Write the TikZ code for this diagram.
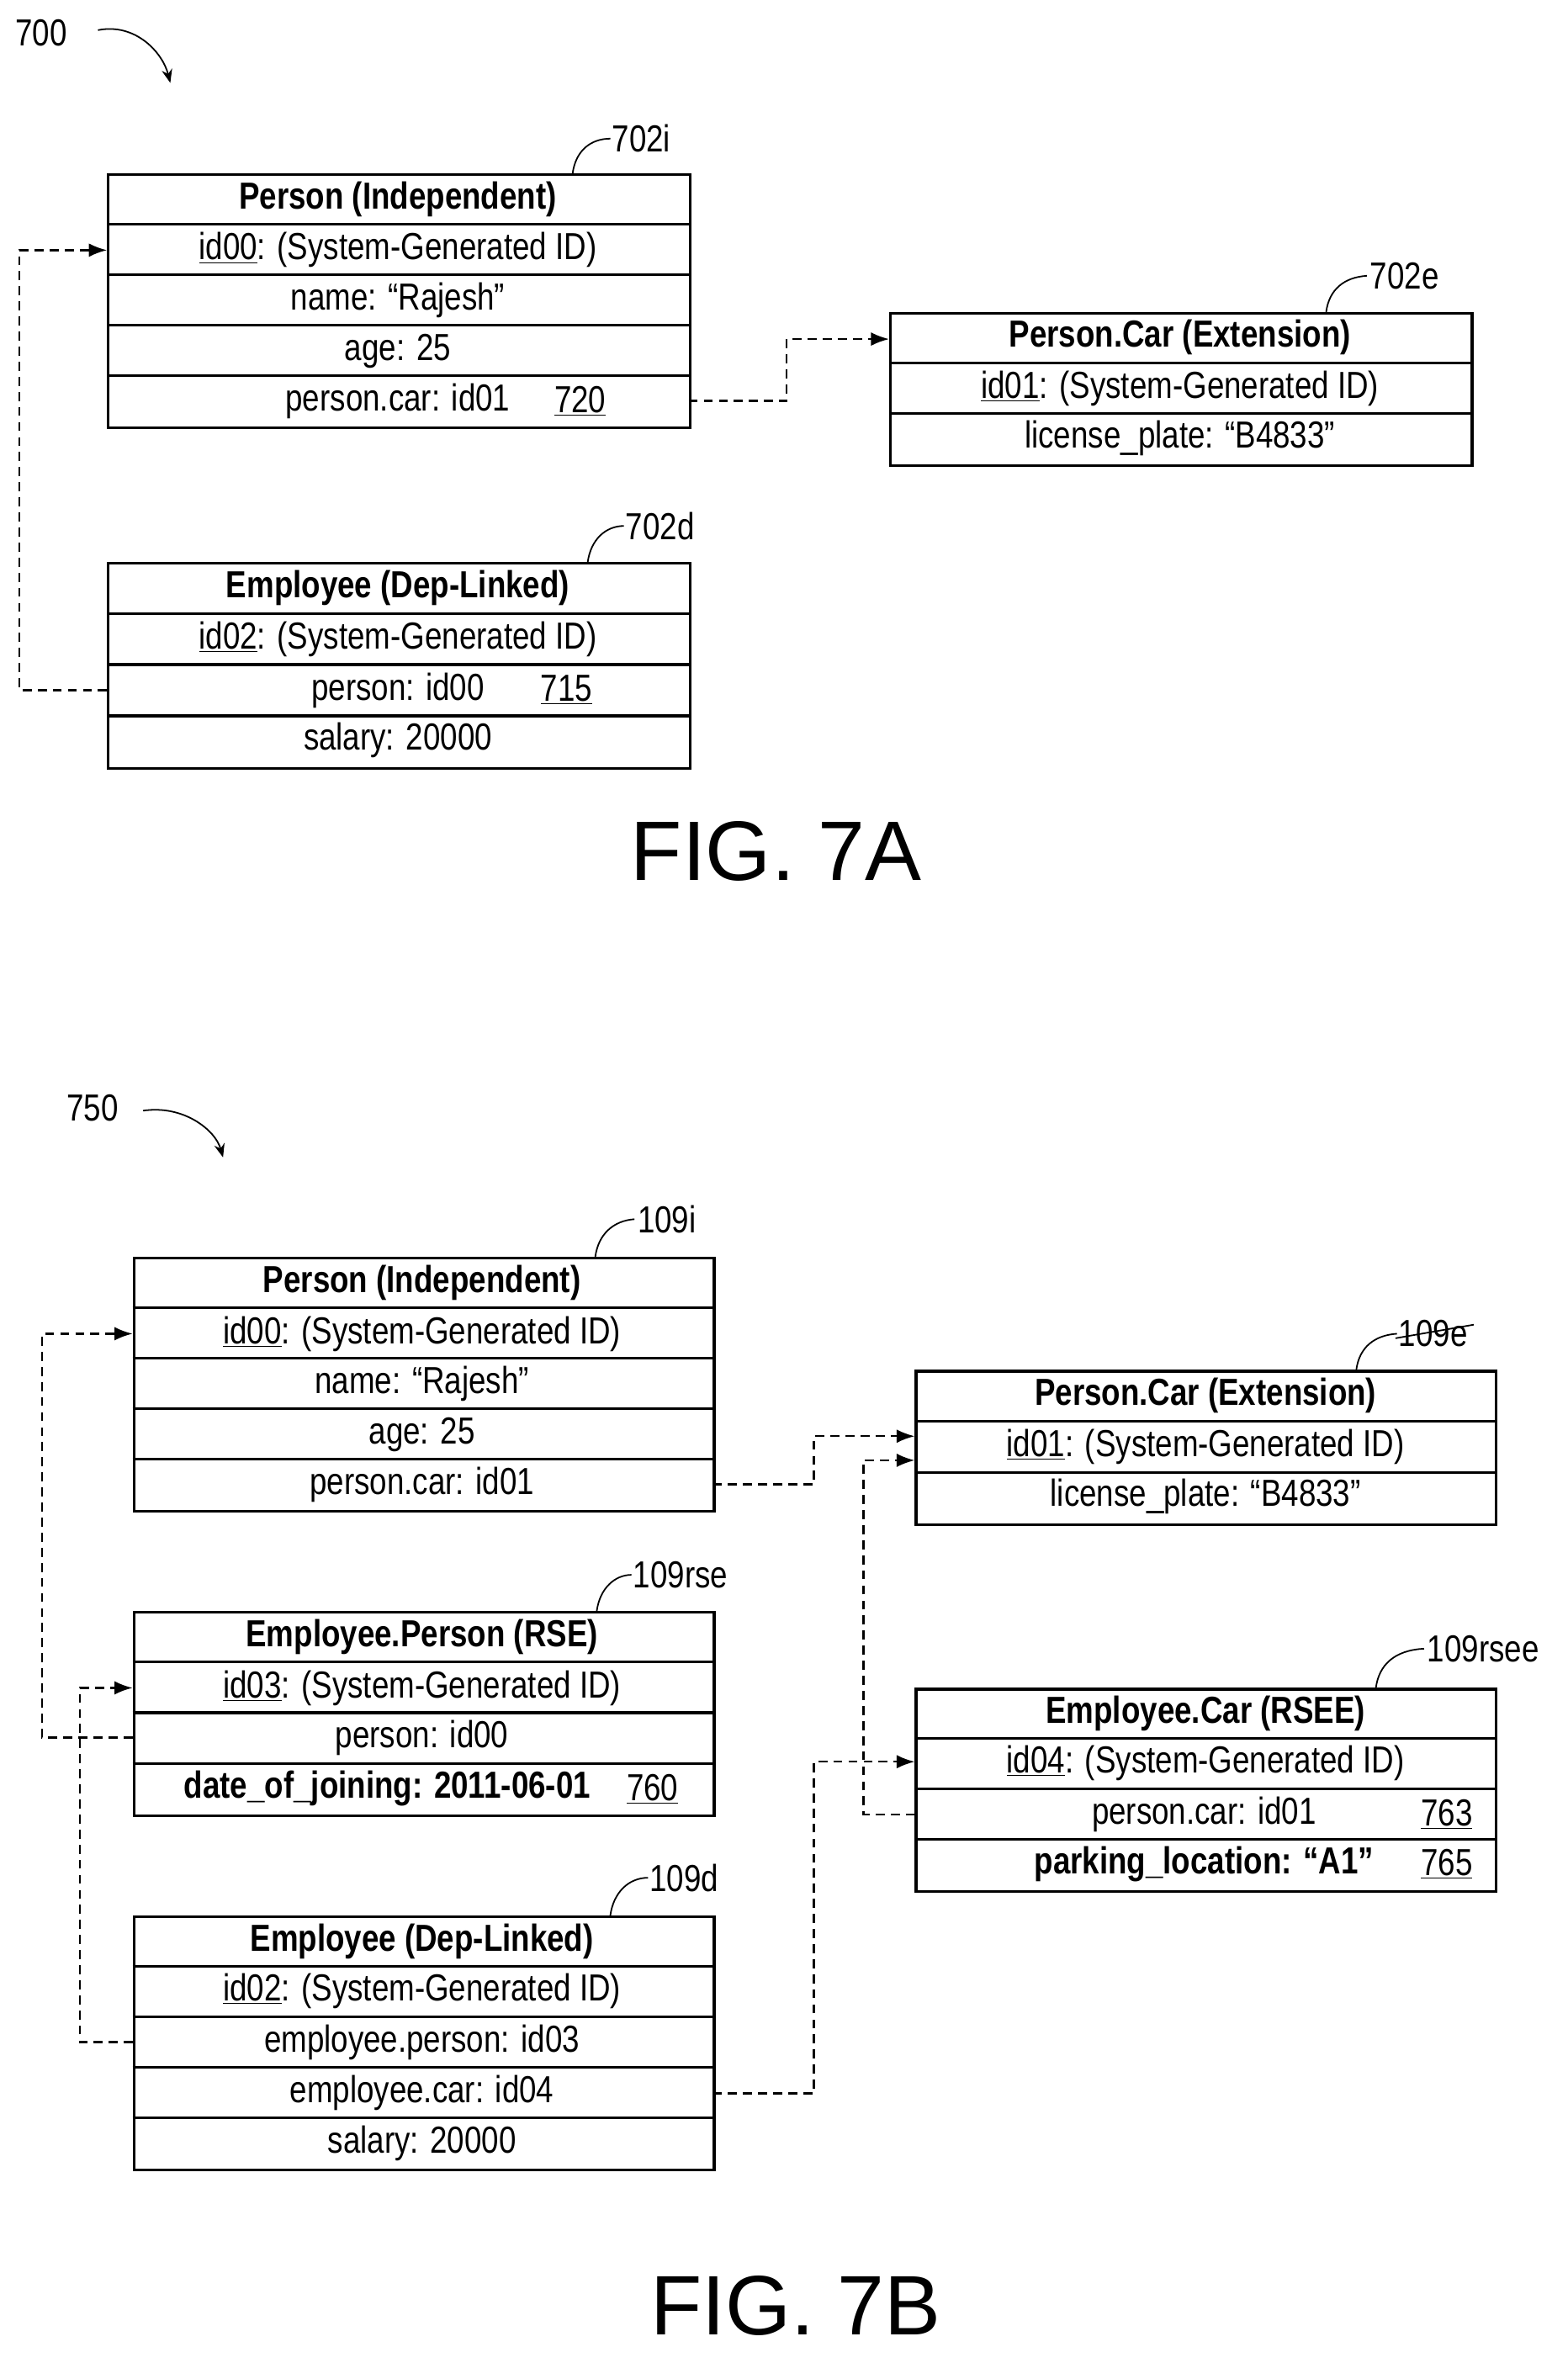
\documentclass[tikz,border=0pt]{standalone}
\usepackage{fontspec}
\setmainfont{Liberation Sans}[FakeStretch=0.82]
\newfontfamily\figfont{Liberation Sans}
\usetikzlibrary{arrows.meta}
\begin{document}
\begin{tikzpicture}[x=1pt,y=-1pt,
  box/.style={draw,line width=1.8pt,anchor=north west,inner sep=0pt},
  rowline/.style={line width=1.8pt},
  txt/.style={font=\fontsize{25}{27}\selectfont,inner sep=0pt,anchor=center},
  lbl/.style={font=\fontsize{25}{27}\selectfont,inner sep=0pt,anchor=west},
  lead/.style={line width=1pt},
  link/.style={line width=1.3pt,dash pattern=on 6pt off 4pt},
  arr/.style={link,-{Latex[length=12pt,width=9pt]}},
  fig/.style={font=\figfont\fontsize{56}{60}\selectfont,inner sep=0pt}]
\useasboundingbox (0,0) rectangle (1040,1568);
\newcommand\mkbox[6]{% name x1 y1 x2 y2 rows
  \node[box,minimum width=#4-#2,minimum height=#5-#3] (#1) at (#2,#3) {};
  \pgfmathsetmacro\rh{(#5-#3)/#6}
  \foreach \k in {1,...,\numexpr#6-1\relax}{\draw[rowline] (#2,#3+\k*\rh) -- (#4,#3+\k*\rh);}}
% ---------- FIG 7A ----------
\node[lbl] (l700) at (10,22) {700};
\draw[lead,-{Stealth[length=9pt,width=7pt]}] (65,20) .. controls (90,15) and (108,35) .. (113,55);
\mkbox{pA}{71}{115}{457}{283}{5}
\node[txt,font=\bfseries\fontsize{25}{27}\selectfont] (pAt) at (264,132) {Person (Independent)};
\node[txt] (pA1) at (264,166) {\underline{id00}: (System-Generated ID)};
\node[txt] (pA2) at (264,199) {name: “Rajesh”};
\node[txt] (pA3) at (264,233) {age: 25};
\node[txt] (pA4) at (264,266) {person.car: id01};
\node[txt] (pA4n) at (385,266) {\underline{720}};
\draw[lead] (380,115) .. controls (382,100) and (392,92) .. (405,92);
\node[lbl] (l702i) at (406,92) {702i};

\mkbox{cA}{590}{207}{976}{308}{3}
\node[txt,font=\bfseries\fontsize{25}{27}\selectfont] (cAt) at (783,224) {Person.Car (Extension)};
\node[txt] (cA1) at (783,258) {\underline{id01}: (System-Generated ID)};
\node[txt] (cA2) at (783,291) {license\_plate: “B4833”};
\draw[lead] (880,207) .. controls (882,192) and (892,184) .. (907,183);
\node[lbl] (l702e) at (909,183) {702e};

\mkbox{eA}{71}{373}{457}{509}{4}
\node[txt,font=\bfseries\fontsize{25}{27}\selectfont] (eAt) at (264,390) {Employee (Dep-Linked)};
\node[txt] (eA1) at (264,424) {\underline{id02}: (System-Generated ID)};
\node[txt] (eA2) at (264,458) {person: id00};
\node[txt] (eA2n) at (376,458) {\underline{715}};
\node[txt] (eA3) at (264,491) {salary: 20000};
\draw[lead] (390,373) .. controls (392,358) and (402,349) .. (414,349);
\node[lbl] (l702d) at (415,349) {702d};

\coordinate (a1s) at (71,458); \coordinate (a1e) at (71,166);
\draw[arr] (a1s) -- (13,458) -- (13,166) -- (a1e);
\coordinate (a2s) at (457,266); \coordinate (a2e) at (590,225);
\draw[arr] (a2s) -- (522,266) -- (522,225) -- (a2e);
\node[fig] (figA) at (515,565) {FIG. 7A};

% ---------- FIG 7B ----------
\node[lbl] (l750) at (44,735) {750};
\draw[lead,-{Stealth[length=9pt,width=7pt]}] (95,737) .. controls (122,733) and (143,750) .. (148,768);

\mkbox{pB}{88}{834}{473}{1002}{5}
\node[txt,font=\bfseries\fontsize{25}{27}\selectfont] (pBt) at (280,851) {Person (Independent)};
\node[txt] (pB1) at (280,885) {\underline{id00}: (System-Generated ID)};
\node[txt] (pB2) at (280,918) {name: “Rajesh”};
\node[txt] (pB3) at (280,952) {age: 25};
\node[txt] (pB4) at (280,985) {person.car: id01};
\draw[lead] (395,834) .. controls (397,819) and (407,810) .. (421,809);
\node[lbl] (l109i) at (423,809) {109i};

\mkbox{cB}{607}{909}{992}{1011}{3}
\node[txt,font=\bfseries\fontsize{25}{27}\selectfont] (cBt) at (800,926) {Person.Car (Extension)};
\node[txt] (cB1) at (800,960) {\underline{id01}: (System-Generated ID)};
\node[txt] (cB2) at (800,993) {license\_plate: “B4833”};
\draw[lead] (900,909) .. controls (902,894) and (912,886) .. (927,885);
\node[lbl] (l109e) at (928,885) {109e};
\draw[lead] (926,888) -- (978,879);

\mkbox{rB}{88}{1069}{473}{1204}{4}
\node[txt,font=\bfseries\fontsize{25}{27}\selectfont] (rBt) at (280,1086) {Employee.Person (RSE)};
\node[txt] (rB1) at (280,1120) {\underline{id03}: (System-Generated ID)};
\node[txt] (rB2) at (280,1153) {person: id00};
\node[txt,font=\bfseries\fontsize{25}{27}\selectfont] (rB3) at (257,1187) {date\_of\_joining: 2011-06-01};
\node[txt] (rB3n) at (433,1187) {\underline{760}};
\draw[lead] (396,1069) .. controls (398,1054) and (408,1045) .. (419,1045);
\node[lbl] (l109rse) at (420,1045) {109rse};

\mkbox{sB}{607}{1120}{992}{1254}{4}
\node[txt,font=\bfseries\fontsize{25}{27}\selectfont] (sBt) at (800,1137) {Employee.Car (RSEE)};
\node[txt] (sB1) at (800,1170) {\underline{id04}: (System-Generated ID)};
\node[txt] (sB2) at (799,1204) {person.car: id01};
\node[txt] (sB2n) at (960,1204) {\underline{763}};
\node[txt,font=\bfseries\fontsize{25}{27}\selectfont] (sB3) at (799,1237) {parking\_location: “A1”};
\node[txt] (sB3n) at (960,1237) {\underline{765}};
\draw[lead] (913,1120) .. controls (915,1105) and (925,1095) .. (945,1094);
\node[lbl] (l109rsee) at (947,1094) {109rsee};

\mkbox{dB}{88}{1271}{473}{1439}{5}
\node[txt,font=\bfseries\fontsize{25}{27}\selectfont] (dBt) at (280,1288) {Employee (Dep-Linked)};
\node[txt] (dB1) at (280,1321) {\underline{id02}: (System-Generated ID)};
\node[txt] (dB2) at (280,1355) {employee.person: id03};
\node[txt] (dB3) at (280,1389) {employee.car: id04};
\node[txt] (dB4) at (280,1422) {salary: 20000};
\draw[lead] (405,1271) .. controls (407,1256) and (417,1246) .. (430,1246);
\node[lbl] (l109d) at (431,1246) {109d};

\coordinate (b1s) at (88,1153); \coordinate (b1e) at (88,885);
\draw[arr] (b1s) -- (28,1153) -- (28,885) -- (b1e);
\coordinate (b2s) at (88,1355); \coordinate (b2e) at (88,1120);
\draw[arr] (b2s) -- (53,1355) -- (53,1120) -- (b2e);
\coordinate (b3s) at (473,985); \coordinate (b3e) at (607,953);
\draw[arr] (b3s) -- (540,985) -- (540,953) -- (b3e);
\coordinate (b4s) at (607,1204); \coordinate (b4e) at (607,969);
\draw[arr] (b4s) -- (573,1204) -- (573,969) -- (b4e);
\coordinate (b5s) at (473,1389); \coordinate (b5e) at (607,1169);
\draw[arr] (b5s) -- (540,1389) -- (540,1169) -- (b5e);
\node[fig] (figB) at (528,1530) {FIG. 7B};
\end{tikzpicture}
\end{document}
